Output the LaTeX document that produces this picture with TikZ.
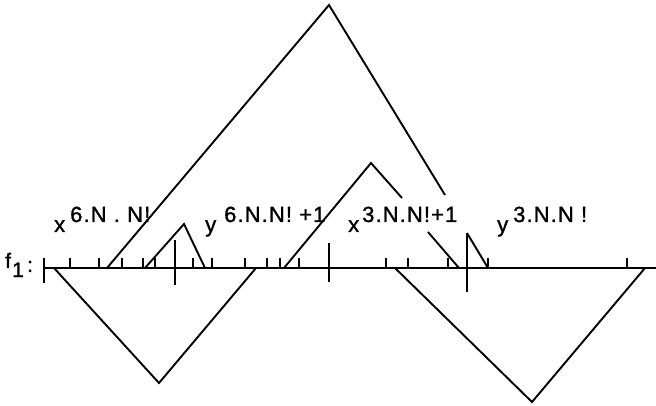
\documentclass[tikz,border=0pt]{standalone}
\usepackage{fontspec}
\setmainfont{Liberation Sans}[FakeBold=1.2]
\newfontfamily\spaced{Liberation Sans}[LetterSpace=5,FakeBold=1.2]
\newfontfamily\plainbold{Liberation Sans}[FakeBold=1.2]
\begin{document}
\begin{tikzpicture}[x=1pt,y=-1pt,
  wave/.style={line width=1.9pt, line join=miter},
  axisline/.style={line width=2.4pt},
  tickmark/.style={line width=1.5pt},
  suplbl/.style={inner sep=0pt, anchor=base west, font=\spaced\fontsize{22}{24}\selectfont},
  baselbl/.style={inner sep=0pt, anchor=base west, font=\plainbold\fontsize{22}{24}\selectfont},
  flbl/.style={inner sep=0pt, anchor=base west, font=\plainbold\fontsize{21}{23}\selectfont}]
\useasboundingbox (0,0) rectangle (656,406);

% axis
\coordinate (L) at (44,268);
\coordinate (R) at (656,268);
\draw[axisline] (L) -- (R);
\draw[tickmark] (44,258) -- (44,283);
\foreach \t in {70,99,122,143,155,193,212,245,267,280,299,386,408,448,488,627}
  \draw[tickmark] (\t,258) -- (\t,268);
\draw[tickmark] (175,240) -- (175,285);
\draw[tickmark] (329,243) -- (329,282);
\draw[tickmark] (467,233) -- (467,292);

% f1 label
\node[flbl] (f) at (5,268) {f};
\node[flbl] (one) at (12,277) {1};
\node[flbl] (colon) at (27,272) {:};

% upper waves
\coordinate (a0) at (107,268);
\coordinate (a1) at (329,5);
\coordinate (a2) at (445,195);
\draw[wave] (a0) -- (a1) -- (a2);

\coordinate (b0) at (284,268);
\coordinate (b1) at (371,163);
\coordinate (b2) at (402,198);
\draw[wave] (b0) -- (b1) -- (b2);

\coordinate (c0) at (145,268);
\coordinate (c1) at (184,224);
\coordinate (c2) at (205,268);
\draw[wave] (c0) -- (c1) -- (c2);

\coordinate (d0) at (428,232);
\coordinate (d1) at (459,268);
\draw[wave] (d0) -- (d1);

\coordinate (e0) at (467,233);
\coordinate (e1) at (488,268);
\draw[wave] (e0) -- (e1);

% lower waves
\coordinate (v0) at (54,268);
\coordinate (v1) at (159,383);
\coordinate (v2) at (256,268);
\draw[wave] (v0) -- (v1) -- (v2);

\coordinate (w0) at (395,268);
\coordinate (w1) at (532,402);
\coordinate (w2) at (645,268);
\draw[wave] (w0) -- (w1) -- (w2);

% labels
\node[baselbl] (x1) at (54,232) {x};
\node[suplbl] (s1) at (70,222) {6.N . N!};
\node[baselbl] (y1) at (205,232) {y};
\node[suplbl] (s2) at (224,222) {6.N.N! +1};
\node[baselbl] (x2) at (348,232) {x};
\node[suplbl] (s3) at (362,222) {3.N.N!+1};
\node[baselbl] (y2) at (497,232) {y};
\node[suplbl] (s4) at (513,222) {3.N.N !};
\end{tikzpicture}
\end{document}
